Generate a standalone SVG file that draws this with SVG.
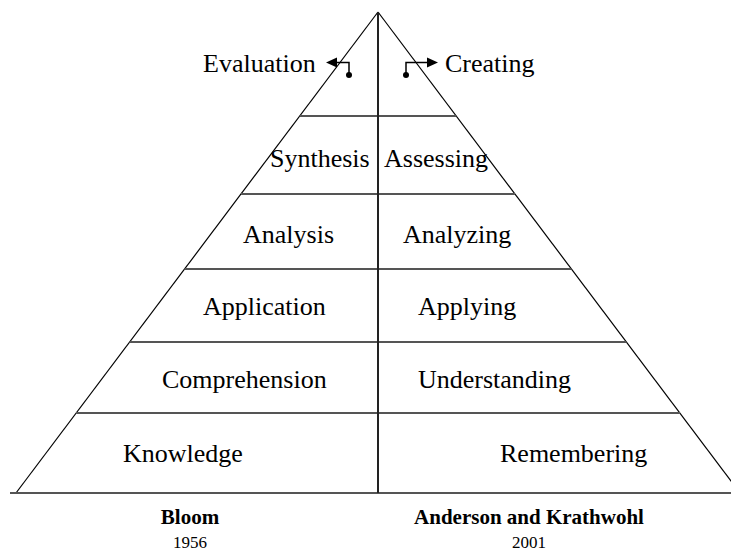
<svg xmlns="http://www.w3.org/2000/svg" width="731" height="556" viewBox="0 0 731 556">
<style>
.t{font-family:"Liberation Serif","Times New Roman",serif;font-size:26px;fill:#000}
.b{font-family:"Liberation Serif","Times New Roman",serif;font-size:21px;font-weight:bold;fill:#000;text-anchor:middle}
.y{font-family:"Liberation Serif","Times New Roman",serif;font-size:17px;fill:#000;text-anchor:middle}
.h{stroke:#555;stroke-width:2;fill:none}
.d{stroke:#000;stroke-width:1.2;fill:none}
.v{stroke:#222;stroke-width:2;fill:none}
.c{stroke:#000;stroke-width:1.5;fill:none}
</style>
<rect width="731" height="556" fill="#fff"/>
<g id="pyramid">
<line class="d" x1="378" y1="12" x2="16" y2="493"/>
<line class="d" x1="378" y1="12" x2="740" y2="493"/>
<line class="h" x1="299.7" y1="116" x2="456.3" y2="116"/>
<line class="h" x1="241" y1="194" x2="515" y2="194"/>
<line class="h" x1="184.5" y1="269" x2="571.5" y2="269"/>
<line class="h" x1="129.5" y1="342" x2="626.5" y2="342"/>
<line class="h" x1="76" y1="413" x2="680" y2="413"/>
<line class="h" x1="10" y1="493" x2="731" y2="493"/>
<line class="v" x1="378" y1="12" x2="378" y2="493"/>
</g>
<g id="connectors">
<path class="c" d="M349,75 V62.5 H336"/>
<polygon points="326,62.5 337,57.5 337,67.5" fill="#000"/>
<circle cx="349" cy="75" r="3" fill="#000"/>
<path class="c" d="M406,75 V62.5 H428"/>
<polygon points="438,62.5 427,57.5 427,67.5" fill="#000"/>
<circle cx="406" cy="75" r="3" fill="#000"/>
</g>
<g id="evaluation"><text class="t" x="203" y="72">Evaluation</text></g>
<g id="creating"><text class="t" x="445" y="72">Creating</text></g>
<g id="synthesis"><text class="t" x="270" y="167">Synthesis</text></g>
<g id="assessing"><text class="t" x="384" y="167">Assessing</text></g>
<g id="analysis"><text class="t" x="243" y="243">Analysis</text></g>
<g id="analyzing"><text class="t" x="403" y="243">Analyzing</text></g>
<g id="application"><text class="t" x="203" y="315">Application</text></g>
<g id="applying"><text class="t" x="418" y="315">Applying</text></g>
<g id="comprehension"><text class="t" x="162" y="388">Comprehension</text></g>
<g id="understanding"><text class="t" x="418" y="388">Understanding</text></g>
<g id="knowledge"><text class="t" x="123" y="462">Knowledge</text></g>
<g id="remembering"><text class="t" x="500" y="462">Remembering</text></g>
<g id="bloom"><text class="b" x="190" y="524">Bloom</text><text class="y" x="190" y="548">1956</text></g>
<g id="anderson"><text class="b" x="529" y="524">Anderson and Krathwohl</text><text class="y" x="529" y="548">2001</text></g>
</svg>
